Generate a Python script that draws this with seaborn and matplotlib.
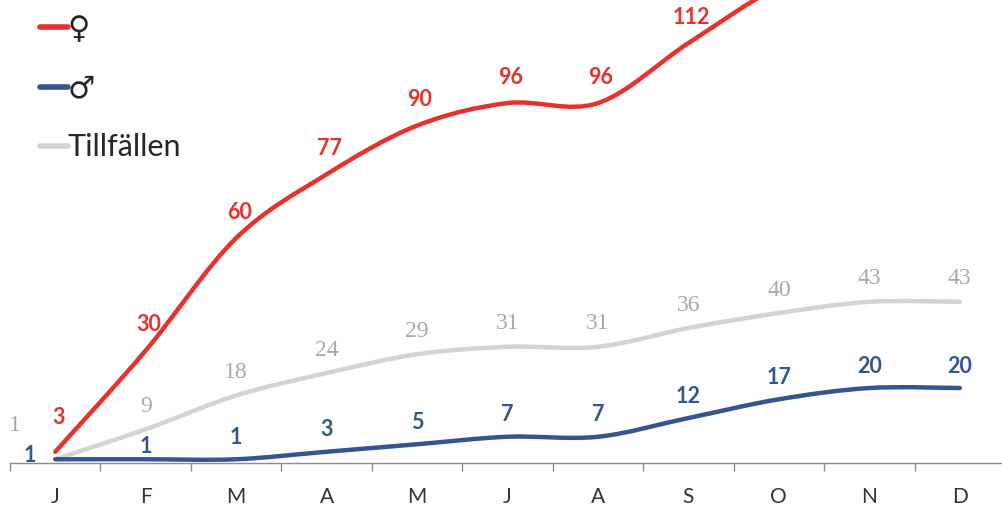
"""Monthly cumulative counts: women, men and occasions (smoothed lines)."""

import matplotlib
matplotlib.use("Agg")
import matplotlib.pyplot as plt
import numpy as np
import seaborn as sns
from matplotlib.lines import Line2D
from matplotlib.patches import PathPatch
from matplotlib.path import Path

# Data
months = ["J", "F", "M", "A", "M", "J", "A", "S", "O", "N", "D"]
women = [3, 30, 60, 77, 90, 96, 96, 112, 127, 135, 138]   # last three run off the top
men = [1, 1, 1, 3, 5, 7, 7, 12, 17, 20, 20]
occasions = [1, 9, 18, 24, 29, 31, 31, 36, 40, 43, 43]

RED = "#e8312c"
BLUE = "#35558f"
GREY_LINE = "#d3d3d3"
GREY_TEXT = "#a9a9a9"


def smooth_path(xs, ys):
    """Excel-style smoothed line as cubic Bezier segments through the points."""
    pts = np.column_stack([xs, ys]).astype(float)
    n = len(pts)
    verts = [pts[0]]
    codes = [Path.MOVETO]
    for i in range(n - 1):
        p0 = pts[max(i - 1, 0)]
        p1 = pts[i]
        p2 = pts[i + 1]
        p3 = pts[min(i + 2, n - 1)]
        c1 = p1 + (p2 - p0) / 6.0
        c2 = p2 - (p3 - p1) / 6.0
        verts += [c1, c2, p2]
        codes += [Path.CURVE4] * 3
    return Path(verts, codes)


sns.set_theme(style="white")
plt.rcParams["font.family"] = ["Lato", "DejaVu Sans"]

fig = plt.figure(figsize=(10.03, 5.08), dpi=100)
ax = fig.add_axes([10 / 1003, 45 / 508, 995 / 1003, 463 / 508])

x = np.arange(len(months))
series = [
    (occasions, GREY_LINE),
    (men, BLUE),
    (women, RED),
]

for vals, lc in series:
    patch = PathPatch(smooth_path(x, vals), fill=False, edgecolor=lc,
                      linewidth=3.2, capstyle="round", joinstyle="round")
    ax.add_patch(patch)

# data labels
for i, v in enumerate(women):
    off = (3, 26) if i > 0 else (3, 34)
    ax.annotate(str(v), (x[i], v), xytext=off, textcoords="offset pixels",
                ha="center", va="center", color=RED, fontsize=15.5,
                fontweight="bold", annotation_clip=True)
for i, v in enumerate(men):
    off = (0, 22) if i > 0 else (-25, 4)
    if i == 1:
        off = (0, 13)
    ax.annotate(str(v), (x[i], v), xytext=off, textcoords="offset pixels",
                ha="center", va="center", color=BLUE, fontsize=15.5,
                fontweight="bold")
for i, v in enumerate(occasions):
    off = (0, 23) if i > 0 else (-40, 34)
    ax.annotate(str(v), (x[i], v), xytext=off, textcoords="offset pixels",
                ha="center", va="center", color=GREY_TEXT, fontsize=17,
                family="Liberation Serif")

ax.set_xlim(-0.5, len(months) - 0.5)
ax.set_ylim(0, 123.5)
ax.set_xticks(x)
ax.set_xticklabels(months, fontsize=15, color="#333333")
ax.set_xticks(np.arange(-0.5, len(months), 1.0), minor=True)
ax.tick_params(axis="x", which="major", length=0, pad=17)
ax.tick_params(axis="x", which="minor", length=6, width=1, color="#8c8c8c",
               direction="out", bottom=True)
ax.set_yticks([])
sns.despine(ax=ax, left=True, top=True, right=True)
ax.spines["bottom"].set_color("#8c8c8c")
ax.spines["bottom"].set_linewidth(1)
ax.grid(False)

handles = [
    Line2D([], [], color=RED, lw=4, solid_capstyle="round"),
    Line2D([], [], color=BLUE, lw=4, solid_capstyle="round"),
    Line2D([], [], color=GREY_LINE, lw=4, solid_capstyle="round"),
]
fig.legend(handles, ["♀", "♂", "Tillfällen"], loc="upper left",
           bbox_to_anchor=(34 / 1003, 1 - 9 / 508), frameon=False,
           fontsize=22, handlelength=0.9, handletextpad=0.0,
           labelspacing=1.02, borderaxespad=0, borderpad=0.2)

fig.savefig("out.png", dpi=100)
